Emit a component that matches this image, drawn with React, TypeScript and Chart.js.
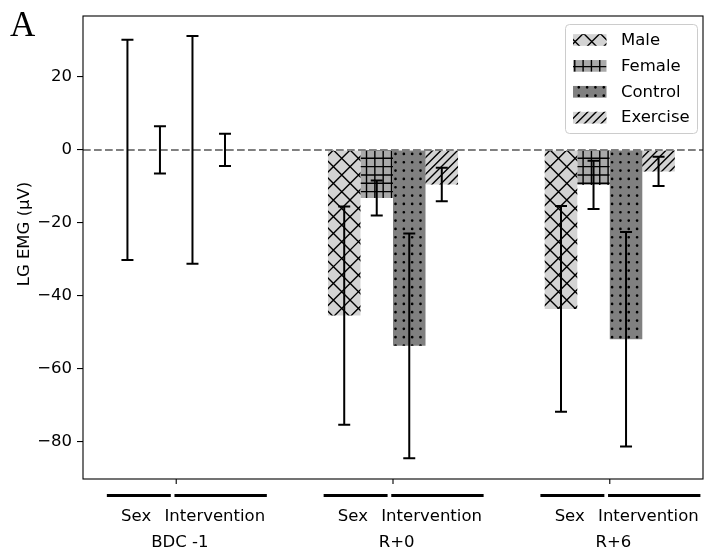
import { useEffect, useRef } from "react";
import { Chart, registerables } from "chart.js";

Chart.register(...registerables);

// Time points and the two comparison bands drawn under each of them
const groups = ["BDC -1", "R+0", "R+6"];
const bandLabels = ["Sex", "Intervention"];

// Series
const seriesNames = ["Male", "Female", "Control", "Exercise"];
const maleMean = [0, -45.4, -43.6];
const maleErr = [30.2, 29.9, 28.2];
const femaleMean = [0, -13.2, -9.6];
const femaleErr = [6.5, 4.8, 6.6];
const controlMean = [0, -53.7, -51.9];
const controlErr = [31.2, 30.8, 29.4];
const exerciseMean = [0, -9.5, -5.9];
const exerciseErr = [4.4, 4.6, 4.0];

// Axis
const yTicks = [20, 0, -20, -40, -60, -80];
const yMin = -90.2;
const yMax = 36.7;
const yTitle = "LG EMG (\u03bcV)";
const panelLetter = "A";

const means = [maleMean, femaleMean, controlMean, exerciseMean];
const errs = [maleErr, femaleErr, controlErr, exerciseErr];
const fills = ["#d3d3d3", "#a9a9a9", "#808080", "#d3d3d3"];
type HatchKind = "x" | "+" | "." | "/";
const hatches: HatchKind[] = ["x", "+", ".", "/"];

const FONT = "'DejaVu Sans', sans-serif";
const FS = 16.5;

function minusFmt(v: number): string {
  return v < 0 ? "\u2212" + Math.abs(v) : String(v);
}

function drawHatch(
  ctx: CanvasRenderingContext2D,
  kind: HatchKind,
  x0: number,
  y0: number,
  x1: number,
  y1: number
) {
  if (x1 - x0 <= 0.5 || y1 - y0 <= 0.5) return;
  ctx.save();
  ctx.beginPath();
  ctx.rect(x0, y0, x1 - x0, y1 - y0);
  ctx.clip();
  ctx.strokeStyle = "#000";
  ctx.fillStyle = "#000";
  ctx.lineWidth = 1.4;
  ctx.beginPath();
  if (kind === "x" || kind === "/") {
    const p = kind === "x" ? 16.67 : 8.33;
    // lines x + y = c  (rising to the right)
    const cMin = Math.floor((x0 + y0) / p) - 1;
    const cMax = Math.ceil((x1 + y1) / p) + 1;
    for (let k = cMin; k <= cMax; k++) {
      const c = k * p;
      ctx.moveTo(c - y0 + 2, y0 - 2);
      ctx.lineTo(c - y1 - 2, y1 + 2);
    }
    if (kind === "x") {
      // lines x - y = c  (falling to the right)
      const dMin = Math.floor((x0 - y1) / p) - 1;
      const dMax = Math.ceil((x1 - y0) / p) + 1;
      for (let k = dMin; k <= dMax; k++) {
        const d = k * p;
        ctx.moveTo(d + y0 - 2, y0 - 2);
        ctx.lineTo(d + y1 + 2, y1 + 2);
      }
    }
    ctx.stroke();
  } else if (kind === "+") {
    const p = 8.33;
    for (let k = Math.floor(x0 / p); k <= Math.ceil(x1 / p); k++) {
      ctx.moveTo(k * p, y0);
      ctx.lineTo(k * p, y1);
    }
    for (let k = Math.floor(y0 / p); k <= Math.ceil(y1 / p); k++) {
      ctx.moveTo(x0, k * p);
      ctx.lineTo(x1, k * p);
    }
    ctx.stroke();
  } else {
    const p = 8.33;
    const r = 1.35;
    for (let j = Math.floor(y0 / p) - 1; j <= Math.ceil(y1 / p) + 1; j++) {
      for (let i = Math.floor(x0 / p) - 1; i <= Math.ceil(x1 / p) + 1; i++) {
        const cx = i * p + 4;
        const cy = j * p + 4;
        ctx.moveTo(cx + r, cy);
        ctx.arc(cx, cy, r, 0, Math.PI * 2);
      }
    }
    ctx.fill();
  }
  ctx.restore();
}

const decorPlugin = {
  id: "decor",
  afterDatasetsDraw(chart: any) {
    const { ctx, chartArea } = chart;
    const ys = chart.scales.y;
    // hatching on every bar
    seriesNames.forEach((_, k) => {
      const meta = chart.getDatasetMeta(k);
      meta.data.forEach((el: any) => {
        const { x, y, base, width } = el.getProps(["x", "y", "base", "width"], true);
        drawHatch(ctx, hatches[k], x - width / 2, Math.min(y, base), x + width / 2, Math.max(y, base));
      });
    });
    // dashed zero reference line
    const y0 = ys.getPixelForValue(0);
    ctx.save();
    ctx.strokeStyle = "#808080";
    ctx.lineWidth = 2;
    ctx.setLineDash([7.7, 3.3]);
    ctx.beginPath();
    ctx.moveTo(chartArea.left, y0);
    ctx.lineTo(chartArea.right, y0);
    ctx.stroke();
    ctx.restore();
    // error bars
    ctx.save();
    ctx.strokeStyle = "#000";
    ctx.lineWidth = 2;
    seriesNames.forEach((_, k) => {
      const meta = chart.getDatasetMeta(k);
      meta.data.forEach((el: any, i: number) => {
        const cx = el.x;
        const top = ys.getPixelForValue(means[k][i] + errs[k][i]);
        const bot = ys.getPixelForValue(means[k][i] - errs[k][i]);
        ctx.beginPath();
        ctx.moveTo(cx, top);
        ctx.lineTo(cx, bot);
        ctx.moveTo(cx - 6, top);
        ctx.lineTo(cx + 6, top);
        ctx.moveTo(cx - 6, bot);
        ctx.lineTo(cx + 6, bot);
        ctx.stroke();
      });
    });
    ctx.restore();
  },
  afterDraw(chart: any) {
    const { ctx, chartArea } = chart;
    const xs = chart.scales.x;
    ctx.save();
    // axes frame
    ctx.strokeStyle = "#000";
    ctx.lineWidth = 1.1;
    ctx.strokeRect(chartArea.left, chartArea.top, chartArea.right - chartArea.left, chartArea.bottom - chartArea.top);
    // x tick marks
    ctx.beginPath();
    groups.forEach((_, i) => {
      const px = xs.getPixelForValue(i);
      ctx.moveTo(px, chartArea.bottom);
      ctx.lineTo(px, chartArea.bottom + 5);
    });
    ctx.stroke();

    // comparison bands and labels under each time point
    ctx.fillStyle = "#000";
    ctx.font = `${FS}px ${FONT}`;
    ctx.textAlign = "center";
    ctx.textBaseline = "middle";
    const bandY = chartArea.bottom + 16.5;
    groups.forEach((g, i) => {
      ctx.lineWidth = 3;
      ctx.beginPath();
      ctx.moveTo(xs.getPixelForValue(i - 0.32), bandY);
      ctx.lineTo(xs.getPixelForValue(i - 0.025), bandY);
      ctx.moveTo(xs.getPixelForValue(i - 0.008), bandY);
      ctx.lineTo(xs.getPixelForValue(i + 0.418), bandY);
      ctx.stroke();
      ctx.fillText(bandLabels[0], xs.getPixelForValue(i - 0.185), chartArea.bottom + 38);
      ctx.fillText(bandLabels[1], xs.getPixelForValue(i + 0.178), chartArea.bottom + 38);
      ctx.fillText(g, xs.getPixelForValue(i + 0.017), chartArea.bottom + 64);
    });

    // y axis title
    ctx.save();
    ctx.translate(24.5, 234);
    ctx.rotate(-Math.PI / 2);
    ctx.fillText(yTitle, 0, 0);
    ctx.restore();

    // panel letter
    ctx.font = "35px 'Liberation Serif', serif";
    ctx.textAlign = "left";
    ctx.textBaseline = "alphabetic";
    ctx.fillText(panelLetter, 10, 36);

    // legend
    const lx = 565, ly = 24, lw = 132, lh = 109;
    ctx.beginPath();
    ctx.roundRect(lx + 0.5, ly + 0.5, lw, lh, 4);
    ctx.fillStyle = "rgba(255,255,255,0.8)";
    ctx.fill();
    ctx.strokeStyle = "#cccccc";
    ctx.lineWidth = 1;
    ctx.stroke();
    ctx.font = `${FS}px ${FONT}`;
    ctx.textBaseline = "middle";
    seriesNames.forEach((name, k) => {
      const cy = 40 + k * 25.9;
      const px0 = 573, px1 = 606.5, ph = 11.7;
      ctx.fillStyle = fills[k];
      ctx.fillRect(px0, cy - ph / 2, px1 - px0, ph);
      drawHatch(ctx, hatches[k], px0, cy - ph / 2, px1, cy + ph / 2);
      ctx.fillStyle = "#000";
      ctx.fillText(name, 621, cy + 0.5);
    });
    ctx.restore();
  },
};

export default function App() {
  const canvasRef = useRef<HTMLCanvasElement | null>(null);

  useEffect(() => {
    document.body.style.margin = "0";
    const canvas = canvasRef.current;
    if (!canvas) return;
    const chart = new Chart(canvas, {
      type: "bar",
      data: {
        datasets: seriesNames.map((name, k) => ({
          label: name,
          data: groups.map((_, i) => ({ x: i, y: means[k][i] })),
          backgroundColor: fills[k],
          borderWidth: 0,
          categoryPercentage: 0.6,
          barPercentage: 1.0,
        })),
      },
      options: {
        animation: false,
        responsive: true,
        maintainAspectRatio: false,
        layout: { padding: { left: 0, top: 16, right: 1, bottom: 0 } },
        plugins: {
          legend: { display: false },
          tooltip: { enabled: false },
        },
        scales: {
          x: {
            type: "linear",
            offset: false,
            min: -0.43,
            max: 2.43,
            afterBuildTicks: (s: any) => {
              s.ticks = groups.map((_, i) => ({ value: i }));
            },
            ticks: { display: false },
            grid: { display: false, offset: false },
            border: { display: false },
            afterFit: (s: any) => {
              s.height = 76;
            },
          },
          y: {
            type: "linear",
            min: yMin,
            max: yMax,
            afterBuildTicks: (s: any) => {
              s.ticks = yTicks.map((v) => ({ value: v }));
            },
            ticks: {
              color: "#000",
              padding: 5,
              font: { family: FONT, size: FS },
              callback: (v: any) => minusFmt(Number(v)),
            },
            grid: {
              drawOnChartArea: false,
              drawTicks: true,
              tickLength: 6,
              color: "#000",
              lineWidth: 1.1,
            },
            border: { display: false },
            afterFit: (s: any) => {
              s.width = 83;
            },
          },
        },
      } as any,
      plugins: [decorPlugin],
    });
    return () => chart.destroy();
  }, []);

  return (
    <div style={{ position: "relative", width: 704, height: 555 }}>
      <canvas ref={canvasRef} />
    </div>
  );
}
